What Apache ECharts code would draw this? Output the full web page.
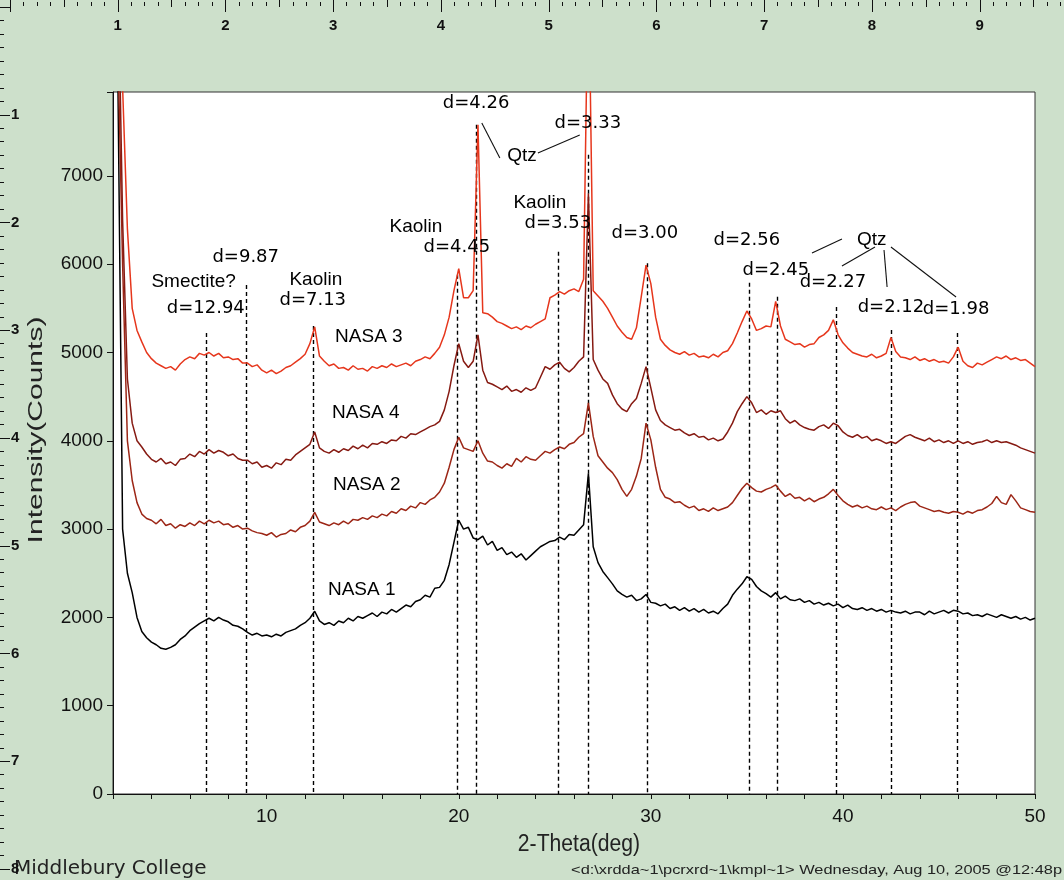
<!DOCTYPE html>
<html>
<head>
<meta charset="utf-8">
<title>XRD - NASA samples</title>
<script src="https://cdn.jsdelivr.net/npm/echarts@6.0.0/dist/echarts.min.js"></script>
<style>
  html, body { margin: 0; padding: 0; background: #cde0cb; }
  #chart { width: 1064px; height: 880px; }
</style>
</head>
<body>
<div id="chart"></div>
<script>
// scan: 2-Theta from 2 to 50 deg, step 0.25
const scanStart = 2;
const scanStep = 0.25;

// counts, one row per degree (x.00, x.25, x.50, x.75)
const nasa1 = [
  9500, 8200, 3000, 2500,  2280, 2000, 1840, 1770,  1720, 1690, 1650, 1640,
  1660, 1690, 1750, 1790,  1850, 1890, 1930, 1960,  1990, 1960, 2000, 1970,
  1950, 1910, 1900, 1870,  1830, 1800, 1820, 1790,  1800, 1780, 1810, 1790,
  1830, 1850, 1870, 1910,  1940, 1990, 2070, 1960,  1920, 1940, 1910, 1960,
  1940, 1990, 1960, 2010,  1990, 2020, 2050, 2010,  2060, 2040, 2090, 2060,
  2100, 2140, 2120, 2180,  2200, 2250, 2230, 2330,  2340, 2420, 2600, 2850,
  3100, 3000, 3020, 2900,  2880, 2920, 2820, 2860,  2760, 2790, 2710, 2740,
  2680, 2720, 2650, 2700,  2750, 2800, 2830, 2860,  2870, 2910, 2880, 2940,
  2930, 2990, 3050, 3630,  2800, 2620, 2520, 2450,  2380, 2300, 2260, 2230,
  2250, 2190, 2210, 2260,  2170, 2160, 2130, 2150,  2100, 2120, 2080, 2110,
  2070, 2100, 2060, 2090,  2050, 2070, 2040, 2100,  2150, 2250, 2320, 2380,
  2460, 2430, 2350, 2300,  2270, 2230, 2280, 2210,  2240, 2200, 2190, 2210,
  2170, 2190, 2150, 2170,  2140, 2160, 2130, 2150,  2110, 2140, 2100, 2090,
  2110, 2080, 2100, 2070,  2090, 2060, 2080, 2060,  2050, 2070, 2040, 2060,
  2060, 2030, 2070, 2040,  2060, 2080, 2050, 2080,  2070, 2040, 2050, 2020,
  2030, 2010, 2040, 2020,  2000, 2030, 2010, 1990,  2010, 1980, 2000, 1970,
  1990
];

const nasa2 = [
  9500, 8500, 6000, 4000,  3550, 3300, 3170, 3120,  3100, 3060, 3110, 3040,
  3060, 3010, 3050, 3030,  3070, 3040, 3090, 3060,  3100, 3070, 3090, 3050,
  3060, 3020, 3040, 3000,  3010, 2980, 2960, 2950,  2930, 2960, 2910, 2940,
  2950, 2990, 2970, 3020,  3040, 3090, 3190, 3080,  3060, 3040, 3070, 3050,
  3090, 3060, 3110, 3100,  3130, 3110, 3150, 3130,  3170, 3150, 3200, 3180,
  3230, 3210, 3260, 3240,  3300, 3280, 3330, 3360,  3420, 3520, 3700, 3900,
  4040, 3920, 3900, 3880,  4000, 3860, 3770, 3760,  3720, 3690, 3740, 3710,
  3800, 3760, 3820, 3790,  3780, 3830, 3880, 3860,  3900, 3930, 3910, 3960,
  3980, 4040, 4080, 4430,  4050, 3830, 3760, 3690,  3640, 3560, 3450, 3370,
  3450, 3600, 3800, 4200,  4010, 3700, 3450, 3360,  3340, 3300, 3310, 3270,
  3240, 3260, 3210, 3230,  3200, 3240, 3210, 3230,  3250, 3300, 3380, 3460,
  3520, 3470, 3430, 3420,  3450, 3470, 3500, 3430,  3370, 3400, 3350, 3360,
  3320, 3350, 3310, 3340,  3360, 3400, 3450, 3380,  3320, 3280, 3250, 3270,
  3240, 3260, 3230, 3220,  3250, 3220, 3240, 3210,  3250, 3280, 3300, 3310,
  3260, 3240, 3220, 3200,  3210, 3190, 3180, 3200,  3190, 3170, 3200, 3180,
  3210, 3220, 3250, 3290,  3370, 3300, 3280, 3390,  3320, 3240, 3220, 3200,
  3190
];

const nasa4 = [
  9500, 9500, 6500, 4700,  4200, 4000, 3930, 3850,  3790, 3760, 3800, 3740,
  3760, 3720, 3790, 3800,  3850, 3820, 3880, 3850,  3900, 3860, 3890, 3870,
  3830, 3850, 3800, 3780,  3780, 3740, 3760, 3700,  3720, 3690, 3750, 3730,
  3790, 3780, 3840, 3880,  3920, 3960, 4100, 3920,  3880, 3860, 3900, 3870,
  3910, 3890, 3940, 3910,  3950, 3920, 3970, 3960,  3990, 3970, 4010, 4000,
  4050, 4030, 4080, 4070,  4100, 4130, 4160, 4180,  4220, 4350, 4560, 4850,
  5100, 4900, 4830, 4900,  5200, 4800, 4660, 4640,  4610, 4580, 4620, 4560,
  4580, 4550, 4600, 4570,  4600, 4720, 4840, 4810,  4860, 4890, 4820, 4780,
  4830, 4900, 4950, 6800,  4920, 4800, 4700, 4650,  4520, 4420, 4360, 4330,
  4420, 4480, 4650, 4840,  4600, 4350, 4230, 4180,  4150, 4120, 4130, 4090,
  4060, 4080, 4040, 4050,  4010, 4030, 4000, 4020,  4100, 4200, 4330, 4420,
  4500, 4430, 4320, 4350,  4300, 4340, 4320, 4340,  4250, 4200, 4230, 4180,
  4150, 4130, 4120, 4160,  4180, 4140, 4200, 4170,  4100, 4060, 4040, 4070,
  4030, 4050, 4000, 4020,  4000, 3970, 3990, 3970,  4010, 4050, 4070, 4040,
  4020, 4000, 4030, 3990,  4010, 3980, 4000, 3970,  4000, 3970, 3990, 3960,
  3980, 3990, 4010, 3980,  4000, 3980, 3990, 3970,  3950, 3920, 3900, 3880,
  3860
];

const nasa3 = [
  9500, 9500, 8000, 6400,  5500, 5250, 5120, 5000,  4930, 4880, 4850, 4820,
  4840, 4800, 4870, 4920,  4950, 4930, 4990, 4970,  5000, 4960, 4990, 4940,
  4950, 4920, 4930, 4880,  4880, 4840, 4860, 4800,  4770, 4800, 4760, 4790,
  4830, 4850, 4890, 4930,  4980, 5100, 5290, 4960,  4900, 4850, 4870, 4820,
  4830, 4800, 4850, 4810,  4820, 4790, 4840, 4820,  4850, 4830, 4870, 4840,
  4860, 4880, 4850, 4900,  4920, 4950, 4930, 4990,  5060, 5200, 5400, 5700,
  5950, 5620, 5620, 5700,  7580, 5450, 5440, 5400,  5350, 5330, 5300, 5270,
  5290, 5260, 5300, 5280,  5320, 5350, 5380, 5620,  5650, 5690, 5660, 5700,
  5720, 5690, 5830, 9500,  5700, 5640, 5580, 5500,  5400, 5300, 5230, 5170,
  5150, 5280, 5630, 5990,  5780, 5400, 5150, 5080,  5030, 5000, 4980, 5010,
  4970, 4990, 4950, 4960,  4940, 4980, 4950, 5000,  5020, 5100, 5220, 5350,
  5470, 5380, 5250, 5270,  5300, 5290, 5580, 5300,  5150, 5120, 5090, 5100,
  5060, 5090, 5100, 5170,  5200, 5250, 5370, 5200,  5110, 5050, 5000, 4980,
  4960, 4950, 4980, 4940,  4960, 4990, 5170, 5010,  4950, 4940, 4920, 4950,
  4910, 4930, 4900, 4920,  4890, 4900, 4880, 4950,  5060, 4900, 4850, 4830,
  4880, 4860, 4890, 4920,  4950, 4930, 4960, 4920,  4940, 4910, 4920, 4880,
  4840
];

// marked reflections: position and top of the dashed line
const peakTheta = [6.88, 8.95, 12.41, 19.94, 20.93, 25.19, 26.72, 29.8, 35.12, 36.58, 39.63, 42.52, 45.93];
const peakTop = [5220, 5765, 5300, 5880, 7580, 6140, 7240, 6010, 5790, 5630, 5515, 5255, 5220];

// annotations
const noteText = ['Smectite?', 'd=12.94', 'd=9.87', 'Kaolin', 'd=7.13', 'NASA 3', 'Kaolin', 'd=4.45',
  'd=4.26', 'Qtz', 'd=3.33', 'Kaolin', 'd=3.53', 'd=3.00', 'd=2.56', 'Qtz', 'd=2.45', 'd=2.27',
  'd=2.12', 'd=1.98', 'NASA 4', 'NASA 2', 'NASA 1'];
const noteTheta = [6.2, 6.83, 8.91, 12.56, 12.4, 15.32, 17.77, 19.9, 20.9, 23.29, 26.72, 24.22, 25.16,
  29.69, 35.0, 41.5, 36.51, 39.48, 42.5, 45.89, 15.16, 15.21, 14.95];
const noteCounts = [5798, 5504, 6082, 5821, 5595, 5176, 6421, 6195, 7826, 7225, 7599, 6693, 6467,
  6353, 6274, 6274, 5934, 5798, 5515, 5493, 4315, 3499, 2310];

// leader lines from the Qtz labels: [theta1, counts1, theta2, counts2]
const qtzLinks = [
  [21.2, 7599, 22.14, 7203],
  [24.12, 7259, 26.3, 7463],
  [38.39, 6127, 39.95, 6285],
  [39.95, 5980, 41.67, 6195],
  [42.14, 6161, 42.3, 5742],
  [42.5, 6195, 45.89, 5629]
];

const SANS = '"Liberation Sans", Arial, sans-serif';
const WIDE = '"DejaVu Sans", Verdana, sans-serif';
const NARROW = '"Liberation Sans Narrow", "Liberation Sans", Arial, sans-serif';

function pairs(vals) {
  return vals.map((v, i) => [scanStart + i * scanStep, v]);
}

function scan(name, vals, color) {
  return {
    name: name,
    type: 'line',
    data: pairs(vals),
    showSymbol: false,
    symbol: 'none',
    sampling: 'none',
    clip: true,
    lineStyle: { color: color, width: 1.5 },
    z: 3
  };
}

// d-spacing labels use wider digits, like the original plot
const notes = noteText.map((t, i) => {
  const item = { value: [noteTheta[i], noteCounts[i]], name: t };
  if (t.indexOf('d=') === 0) {
    item.label = { fontFamily: WIDE, fontSize: 18 };
  }
  return item;
});

const chart = echarts.init(document.getElementById('chart'));
chart.setOption({
  animation: false,
  backgroundColor: '#cde0cb',
  grid: [
    { left: 113, right: 29, top: 92, bottom: 86, show: true, backgroundColor: '#fff',
      borderColor: '#333', borderWidth: 1, outerBoundsMode: 'none' },
    // top ruler
    { left: 10, top: 0, width: 1077.5, height: 2, outerBoundsMode: 'none' },
    // left ruler
    { left: 0, top: 7, width: 2, height: 969.75, outerBoundsMode: 'none' }
  ],
  xAxis: [
    {
      gridIndex: 0, type: 'value', min: 2, max: 50, interval: 2,
      axisLine: { lineStyle: { color: '#111', width: 1 } },
      axisTick: { length: 5, lineStyle: { color: '#111' } },
      axisLabel: { formatter: v => (v % 10 === 0 ? String(v) : ''), color: '#111',
        fontSize: 19, fontFamily: SANS, margin: 13 },
      splitLine: { show: false }
    },
    {
      gridIndex: 1, type: 'value', position: 'top', min: 0, max: 10, interval: 1,
      axisLine: { show: false },
      axisTick: { inside: true, length: 10, lineStyle: { color: '#111' } },
      minorTick: { show: true, splitNumber: 8, length: 4, lineStyle: { color: '#111' } },
      axisLabel: { inside: true, margin: 18, color: '#111', fontSize: 15, fontWeight: 'bold',
        fontFamily: NARROW, formatter: v => (v > 0 && v < 10 ? String(v) : '') },
      splitLine: { show: false }
    },
    {
      gridIndex: 1, type: 'value', position: 'top', min: 0, max: 10, interval: 0.5,
      axisLine: { show: false },
      axisTick: { inside: true, length: 7, lineStyle: { color: '#111' } },
      axisLabel: { show: false },
      splitLine: { show: false }
    },
    { gridIndex: 2, type: 'value', show: false }
  ],
  yAxis: [
    {
      gridIndex: 0, type: 'value', min: 0, max: 7950, interval: 1000,
      axisLine: { show: true, lineStyle: { color: '#111', width: 1 } },
      axisTick: { show: true, length: 6, lineStyle: { color: '#111' } },
      axisLabel: { formatter: v => (v % 1000 === 0 ? String(v) : ''), color: '#111',
        fontSize: 19, fontFamily: SANS, margin: 10 },
      splitLine: { show: false }
    },
    { gridIndex: 1, type: 'value', show: false },
    {
      gridIndex: 2, type: 'value', position: 'left', inverse: true, min: 0, max: 9, interval: 1,
      axisLine: { show: false },
      axisTick: { inside: true, length: 10, lineStyle: { color: '#111' } },
      minorTick: { show: true, splitNumber: 8, length: 4, lineStyle: { color: '#111' } },
      axisLabel: { inside: true, margin: 11, color: '#111', fontSize: 15, fontWeight: 'bold',
        fontFamily: NARROW, formatter: v => (v > 0 && v < 9 ? String(v) : '') },
      splitLine: { show: false }
    }
  ],
  series: [
    {
      type: 'lines', coordinateSystem: 'cartesian2d', xAxisIndex: 0, yAxisIndex: 0,
      silent: true, z: 2,
      lineStyle: { color: '#000', width: 1.4, type: [4, 3], opacity: 1, curveness: 0 },
      data: peakTheta.map((t, i) => ({ coords: [[t, peakTop[i]], [t, 0]] }))
    },
    scan('NASA 1', nasa1, '#000000'),
    scan('NASA 2', nasa2, '#9c2616'),
    scan('NASA 4', nasa4, '#861a12'),
    scan('NASA 3', nasa3, '#e6361c'),
    {
      type: 'lines', coordinateSystem: 'cartesian2d', xAxisIndex: 0, yAxisIndex: 0,
      silent: true, z: 4,
      lineStyle: { color: '#111', width: 1.1, opacity: 1, curveness: 0 },
      data: qtzLinks.map(l => ({ coords: [[l[0], l[1]], [l[2], l[3]]] }))
    },
    {
      type: 'scatter', xAxisIndex: 0, yAxisIndex: 0, silent: true, z: 5,
      symbolSize: 1, itemStyle: { color: 'rgba(0,0,0,0)', opacity: 1 },
      label: { show: true, position: 'inside', formatter: p => p.name,
        color: '#000', opacity: 1, fontSize: 19, fontFamily: SANS },
      data: notes
    }
  ],
  graphic: [
    { type: 'text', x: 36, y: 430, rotation: Math.PI / 2, scaleX: 1.5,
      style: { text: 'Intensity(Counts)', font: '20px ' + SANS, fill: '#222',
        textAlign: 'center', textVerticalAlign: 'middle', align: 'center', verticalAlign: 'middle' } },
    { type: 'text', x: 579, y: 845, scaleX: 0.92,
      style: { text: '2-Theta(deg)', font: '23px ' + SANS, fill: '#222',
        textAlign: 'center', textVerticalAlign: 'middle', align: 'center', verticalAlign: 'middle' } },
    { type: 'text', x: 14, y: 869,
      style: { text: 'Middlebury College', font: '20px ' + WIDE, fill: '#222',
        textAlign: 'left', textVerticalAlign: 'middle', align: 'left', verticalAlign: 'middle' } },
    { type: 'text', x: 1062, y: 870, scaleX: 1.26,
      style: { text: '<d:\\xrdda~1\\pcrxrd~1\\kmpl~1> Wednesday, Aug 10, 2005 @12:48p',
        font: '13px ' + NARROW, fill: '#222',
        textAlign: 'right', textVerticalAlign: 'middle', align: 'right', verticalAlign: 'middle' } }
  ]
});
</script>
</body>
</html>
